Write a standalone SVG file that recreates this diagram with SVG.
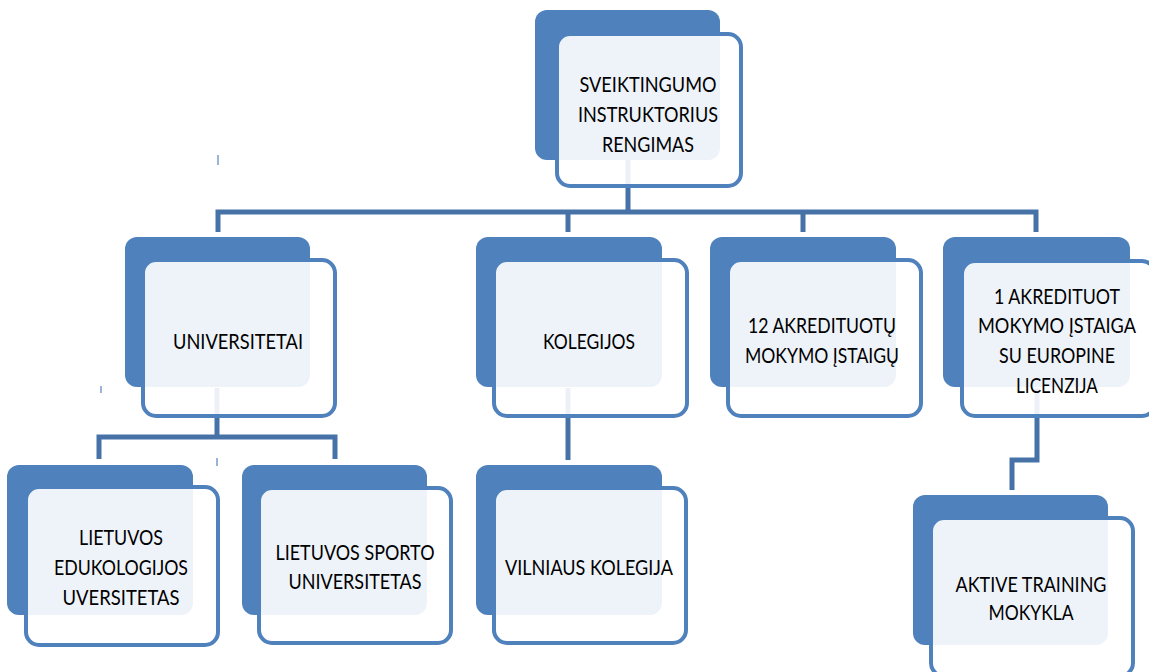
<svg xmlns="http://www.w3.org/2000/svg" width="1149" height="672" viewBox="0 0 1149 672">
<style>
.back{fill:#4F81BD}
.front{fill:#FFFFFF;fill-opacity:.9;stroke:#4F81BD;stroke-width:4}
.con{fill:none;stroke:#4672A8;stroke-width:5}
.tick{stroke:#7A9CCB;stroke-width:1.5}
text{font-family:Lato,"Liberation Sans",sans-serif;font-size:22px;fill:#000;text-anchor:middle}
</style>
<rect width="1149" height="672" fill="#fff"/>
<g id="connectors">
<path class="con" d="M628,160 V212 M218,232 V212 H1036 V232 M568,212 V232 M803,212 V232"/>
<path class="con" d="M217,388 V437 M99,459 V437 H335 V459"/>
<path class="con" d="M568,388 V460"/>
<path class="con" d="M1037,388 V460 H1012 V490"/>
<line class="tick" x1="218" y1="155" x2="218" y2="165"/>
<line class="tick" x1="101" y1="386" x2="101" y2="393"/>
<line class="tick" x1="217" y1="458" x2="217" y2="466"/>
</g>
<g id="n-top">
<rect class="back" x="535" y="10" width="185" height="150" rx="12"/>
<rect class="front" x="557" y="34" width="184" height="152" rx="13"/>
<text x="648" y="92" textLength="137" lengthAdjust="spacingAndGlyphs">SVEIKTINGUMO</text>
<text x="648" y="122" textLength="140" lengthAdjust="spacingAndGlyphs">INSTRUKTORIUS</text>
<text x="648" y="152" textLength="92" lengthAdjust="spacingAndGlyphs">RENGIMAS</text>
</g>
<g id="n-univ">
<rect class="back" x="125" y="237" width="185" height="150" rx="12"/>
<rect class="front" x="143" y="260" width="192" height="156" rx="13"/>
<text x="238" y="349" textLength="130" lengthAdjust="spacingAndGlyphs">UNIVERSITETAI</text>
</g>
<g id="n-koleg">
<rect class="back" x="476" y="237" width="186" height="150" rx="12"/>
<rect class="front" x="494" y="260" width="193" height="156" rx="13"/>
<text x="589" y="349" textLength="92" lengthAdjust="spacingAndGlyphs">KOLEGIJOS</text>
</g>
<g id="n-12akr">
<rect class="back" x="710" y="237" width="186" height="150" rx="12"/>
<rect class="front" x="728" y="260" width="193" height="156" rx="13"/>
<text x="822" y="333" textLength="148" lengthAdjust="spacingAndGlyphs">12 AKREDITUOTŲ</text>
<text x="822" y="363" textLength="154" lengthAdjust="spacingAndGlyphs">MOKYMO ĮSTAIGŲ</text>
</g>
<g id="n-1akr">
<rect class="back" x="943" y="237" width="187" height="150" rx="12"/>
<rect class="front" x="962" y="261" width="193" height="155" rx="13"/>
<text x="1057" y="304" textLength="126" lengthAdjust="spacingAndGlyphs">1 AKREDITUOT</text>
<text x="1057" y="333" textLength="158" lengthAdjust="spacingAndGlyphs">MOKYMO ĮSTAIGA</text>
<text x="1057" y="363" textLength="116" lengthAdjust="spacingAndGlyphs">SU EUROPINE</text>
<text x="1057" y="393" textLength="82" lengthAdjust="spacingAndGlyphs">LICENZIJA</text>
</g>
<g id="n-leu">
<rect class="back" x="7" y="465" width="186" height="150" rx="12"/>
<rect class="front" x="26" y="487" width="192" height="158" rx="13"/>
<text x="121" y="545" textLength="84" lengthAdjust="spacingAndGlyphs">LIETUVOS</text>
<text x="121" y="575" textLength="134" lengthAdjust="spacingAndGlyphs">EDUKOLOGIJOS</text>
<text x="121" y="605" textLength="117" lengthAdjust="spacingAndGlyphs">UVERSITETAS</text>
</g>
<g id="n-lsu">
<rect class="back" x="242" y="465" width="185" height="150" rx="12"/>
<rect class="front" x="259" y="488" width="192" height="155" rx="13"/>
<text x="355" y="560" textLength="159" lengthAdjust="spacingAndGlyphs">LIETUVOS SPORTO</text>
<text x="355" y="589" textLength="133" lengthAdjust="spacingAndGlyphs">UNIVERSITETAS</text>
</g>
<g id="n-vk">
<rect class="back" x="476" y="465" width="186" height="150" rx="12"/>
<rect class="front" x="494" y="488" width="192" height="155" rx="13"/>
<text x="589" y="575" textLength="168" lengthAdjust="spacingAndGlyphs">VILNIAUS KOLEGIJA</text>
</g>
<g id="n-aktive">
<rect class="back" x="913" y="495" width="195" height="150" rx="12"/>
<rect class="front" x="931" y="518" width="202" height="158" rx="13"/>
<text x="1031" y="592" textLength="151" lengthAdjust="spacingAndGlyphs">AKTIVE TRAINING</text>
<text x="1031" y="620" textLength="85" lengthAdjust="spacingAndGlyphs">MOKYKLA</text>
</g>
</svg>
